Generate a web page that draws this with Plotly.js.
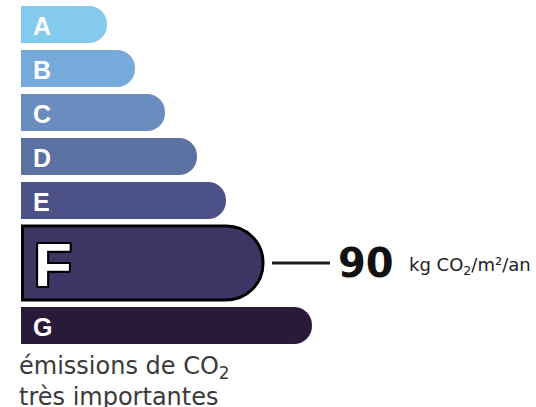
<!DOCTYPE html>
<html>
<head>
<meta charset="utf-8">
<script src="https://cdn.plot.ly/plotly-3.0.1.min.js"></script>
<style>
  html, body { margin: 0; padding: 0; background: #ffffff; }
  #chart { width: 536px; height: 407px; }
</style>
</head>
<body>
<div id="chart"></div>
<script>
// ---- data ----
const classes = ['A', 'B', 'C', 'D', 'E', 'F', 'G'];
const barLengths = [86, 114, 144, 176, 205, 242, 291];
const currentClass = 'F';
const emissionValue = 90;
const unitLabel = 'kg CO<sub>2</sub>/m²/an';
const footerLines = ['émissions de CO<sub>2</sub>', 'très importantes'];

// ---- styles ----
const barColors = ['#84CAEF', '#76AADA', '#6A8CBF', '#5B71A2', '#4C5287', '#3B3663', '#2A1A39'];
const W = 536, H = 407, LEFT = 21;
const thin = 37, thick = 74, gap = 7, top0 = 6;
const HIDDEN = 60; // part of each bar hidden left of the plot area (keeps the left end square)

// layout of rows (derived from the class list)
const thickness = classes.map(c => c === currentClass ? thick : thin);
const centers = [];
let cursor = top0;
thickness.forEach(t => { centers.push(cursor + t / 2); cursor += t + gap; });
const curIdx = classes.indexOf(currentClass);

const trace = {
  type: 'bar',
  orientation: 'h',
  x: barLengths.map(v => v + HIDDEN),
  y: centers,
  base: -HIDDEN,
  width: thickness,
  marker: {
    color: barColors,
    cornerradius: '50%',
    line: {
      color: '#000000',
      width: classes.map(c => c === currentClass ? 3 : 0)
    }
  },
  cliponaxis: true,
  hoverinfo: 'skip',
  showlegend: false
};

const annotations = classes.map((c, i) => {
  const isCur = c === currentClass;
  return {
    x: 0, y: centers[i], xref: 'x', yref: 'y',
    text: c, showarrow: false,
    xanchor: 'left', yanchor: 'middle',
    xshift: isCur ? 11 : 10, yshift: -1,
    font: {
      family: 'Liberation Sans, Arial, sans-serif',
      size: isCur ? 62 : 25,
      color: '#ffffff',
      weight: 'bold',
      shadow: isCur ? '2px 2px 0 #000, -2px -2px 0 #000, 2px -2px 0 #000, -2px 2px 0 #000, 0 2px 0 #000, 0 -2px 0 #000, 2px 0 0 #000, -2px 0 0 #000' : 'none'
    }
  };
});

// value label for the current class
annotations.push({
  x: barLengths[curIdx] + 73, y: centers[curIdx], xref: 'x', yref: 'y',
  text: String(emissionValue), showarrow: false,
  xanchor: 'left', yanchor: 'middle', yshift: 0,
  font: { family: 'DejaVu Sans, sans-serif', size: 40, color: '#111111', weight: 'bold' }
});
annotations.push({
  x: barLengths[curIdx] + 144, y: centers[curIdx], xref: 'x', yref: 'y',
  text: unitLabel, showarrow: false,
  xanchor: 'left', yanchor: 'middle', yshift: -3,
  font: { family: 'DejaVu Sans, sans-serif', size: 18, color: '#222222' }
});

// footer
const lastIdx = classes.length - 1;
footerLines.forEach((t, k) => {
  annotations.push({
    x: 0, xshift: -4,
    y: centers[lastIdx] + thickness[lastIdx] / 2 + 23 + k * 30, xref: 'x', yref: 'y',
    text: t, showarrow: false,
    xanchor: 'left', yanchor: 'middle',
    font: { family: 'DejaVu Sans, sans-serif', size: 24, color: '#3a3a3a' }
  });
});

const shapes = [
  {
    type: 'line', xref: 'x', yref: 'y',
    x0: barLengths[curIdx] + 9, x1: barLengths[curIdx] + 67,
    y0: centers[curIdx], y1: centers[curIdx],
    line: { color: '#1a1a1a', width: 3 }
  },
  {
    // left edge of the outlined current-class bar
    type: 'line', xref: 'x', yref: 'y',
    x0: 1.5, x1: 1.5,
    y0: centers[curIdx] - thickness[curIdx] / 2 + 1.5, y1: centers[curIdx] + thickness[curIdx] / 2 - 1.5,
    line: { color: '#000000', width: 3 }
  }
];

const layout = {
  width: W, height: H,
  margin: { l: LEFT, r: 0, t: 0, b: 0, pad: 0 },
  paper_bgcolor: '#ffffff', plot_bgcolor: '#ffffff',
  xaxis: { range: [0, W - LEFT], visible: false, fixedrange: true },
  yaxis: { range: [H, 0], visible: false, fixedrange: true },
  bargap: 0,
  annotations: annotations,
  shapes: shapes,
  showlegend: false
};

Plotly.newPlot('chart', [trace], layout, { displayModeBar: false, staticPlot: true });
</script>
</body>
</html>
